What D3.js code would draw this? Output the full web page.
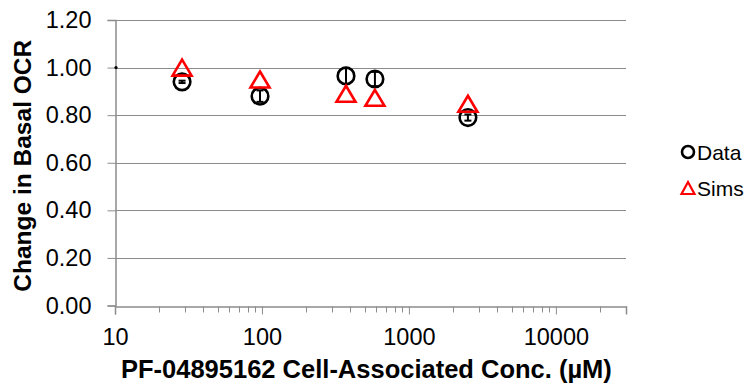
<!DOCTYPE html>
<html>
<head>
<meta charset="utf-8">
<script src="https://cdn.jsdelivr.net/npm/d3@7"></script>
<style>
  body { margin: 0; background: #fff; }
  svg { display: block; font-family: "Liberation Sans", Arial, sans-serif; }
</style>
</head>
<body>
<div id="chart"></div>
<script>
// values
const concs = [28.6, 97, 373, 587, 2520];
const dataVals = [0.94, 0.88, 0.965, 0.952, 0.79];
const dataErr = [0.005, 0.024, 0.034, 0.03, 0.013];
const simVals = [1.00, 0.95, 0.89, 0.873, 0.848];
const controlPoint = [{ x: 10, y: 1.0 }];
const yTicks = [0, 0.2, 0.4, 0.6, 0.8, 1.0, 1.2];
const xTicks = [10, 100, 1000, 10000];

const width = 748, height = 385;
const margin = { left: 115, right: 122, top: 20, bottom: 79.5 };
const gridColor = '#8c8c8c';
const tickFont = 23.5;

const svg = d3.select('#chart').append('svg')
  .attr('width', width)
  .attr('height', height);

const x = d3.scaleLog()
  .domain([10, 30000])
  .range([margin.left, width - margin.right]);

const y = d3.scaleLinear()
  .domain([0, 1.2])
  .range([height - margin.bottom, margin.top]);

// horizontal gridlines
svg.append('g')
  .selectAll('line')
  .data(yTicks.filter(d => d > 0))
  .join('line')
  .attr('x1', x.range()[0])
  .attr('x2', x.range()[1])
  .attr('y1', d => Math.round(y(d)) + 0.5)
  .attr('y2', d => Math.round(y(d)) + 0.5)
  .attr('stroke', gridColor)
  .attr('stroke-width', 1);

// y axis
const yAxis = svg.append('g')
  .attr('transform', `translate(${margin.left + 0.5},0)`)
  .call(d3.axisLeft(y).tickValues(yTicks).tickFormat(d3.format('.2f')).tickSizeOuter(0).tickSize(8).tickPadding(16));

// x axis: majors labelled, minors short
const minorTicks = [];
for (let dec = 10; dec <= 10000; dec *= 10) {
  for (let k = 2; k <= 9; k++) if (dec * k <= 30000) minorTicks.push(dec * k);
}
const xAxis = svg.append('g')
  .attr('transform', `translate(0,${Math.round(y(0)) + 0.5})`)
  .call(d3.axisBottom(x).tickValues(xTicks).tickFormat(d3.format('d')).tickSizeOuter(0).tickSize(8).tickPadding(14));

xAxis.append('g')
  .selectAll('line')
  .data(minorTicks)
  .join('line')
  .attr('x1', d => Math.round(x(d)) + 0.5)
  .attr('x2', d => Math.round(x(d)) + 0.5)
  .attr('y1', 0)
  .attr('y2', 6)
  .attr('stroke', gridColor);

[yAxis, xAxis].forEach(ax => {
  ax.selectAll('path.domain').attr('stroke', gridColor).attr('stroke-width', 1.5);
  ax.selectAll('.tick line').attr('stroke', gridColor);
  ax.selectAll('text')
    .attr('font-family', '"Liberation Sans", Arial, sans-serif')
    .attr('font-size', tickFont)
    .attr('fill', '#000');
});
xAxis.selectAll('.tick text').attr('dy', '0.71em');

// axis titles
svg.append('text')
  .attr('x', 121)
  .attr('y', 378)
  .attr('font-size', 25.5)
  .attr('font-weight', 'bold')
  .text('PF-04895162 Cell-Associated Conc. (\u00b5M)');

svg.append('text')
  .attr('transform', `translate(31,${(y(0) + y(1.2)) / 2 + 3}) rotate(-90)`)
  .attr('text-anchor', 'middle')
  .attr('font-size', 24.5)
  .attr('font-weight', 'bold')
  .text('Change in Basal OCR');

// triangle marker path (bbox centred, like spreadsheet markers)
function triPath(cx, cy, w, h) {
  return `M${cx},${cy - h / 2}L${cx + w / 2},${cy + h / 2}L${cx - w / 2},${cy + h / 2}Z`;
}

const dataPts = concs.map((c, i) => ({ x: c, y: dataVals[i], e: dataErr[i] }));
const simPts = concs.map((c, i) => ({ x: c, y: simVals[i] }));

// control point on the axis
svg.append('g')
  .selectAll('circle')
  .data(controlPoint)
  .join('circle')
  .attr('cx', d => x(d.x) + 1)
  .attr('cy', d => y(d.y))
  .attr('r', 1.6)
  .attr('fill', '#000');

// Data series: open circles + error bars
const dataG = svg.append('g');
dataG.selectAll('circle')
  .data(dataPts)
  .join('circle')
  .attr('cx', d => x(d.x))
  .attr('cy', d => y(d.y))
  .attr('r', 8.3)
  .attr('fill', 'none')
  .attr('stroke', '#000')
  .attr('stroke-width', 2.6);

const errG = dataG.selectAll('g.err')
  .data(dataPts)
  .join('g')
  .attr('class', 'err')
  .attr('stroke', '#000')
  .attr('stroke-width', 2);
errG.append('line')
  .attr('x1', d => x(d.x)).attr('x2', d => x(d.x))
  .attr('y1', d => y(d.y - d.e)).attr('y2', d => y(d.y + d.e));
errG.append('line')
  .attr('x1', d => x(d.x) - 3.5).attr('x2', d => x(d.x) + 3.5)
  .attr('y1', d => y(d.y - d.e)).attr('y2', d => y(d.y - d.e));
errG.append('line')
  .attr('x1', d => x(d.x) - 3.5).attr('x2', d => x(d.x) + 3.5)
  .attr('y1', d => y(d.y + d.e)).attr('y2', d => y(d.y + d.e));

// Sims series: open red triangles
svg.append('g')
  .selectAll('path')
  .data(simPts)
  .join('path')
  .attr('d', d => triPath(x(d.x), y(d.y), 19, 16))
  .attr('fill', 'none')
  .attr('stroke', '#ff0000')
  .attr('stroke-width', 2.6)
  .attr('stroke-linejoin', 'miter');

// legend
const legend = svg.append('g').attr('transform', 'translate(688,0)');
legend.append('circle')
  .attr('cx', 0).attr('cy', 152).attr('r', 6)
  .attr('fill', 'none').attr('stroke', '#000').attr('stroke-width', 2.6);
legend.append('text')
  .attr('x', 9).attr('y', 159.5)
  .attr('font-size', 21)
  .text('Data');
legend.append('path')
  .attr('d', triPath(0, 188, 13, 12))
  .attr('fill', 'none').attr('stroke', '#ff0000').attr('stroke-width', 2.2);
legend.append('text')
  .attr('x', 9).attr('y', 195.5)
  .attr('font-size', 21)
  .text('Sims');
</script>
</body>
</html>
